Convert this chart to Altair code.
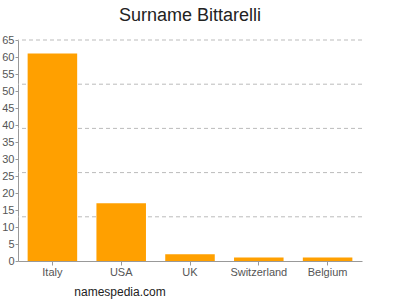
import altair as alt
import pandas as pd

countries = ["Italy", "USA", "UK", "Switzerland", "Belgium"]
counts = [61, 17, 2, 1, 1]
grid_values = [13, 26, 39, 52, 65]
y_ticks = list(range(0, 70, 5))

df = pd.DataFrame({"country": countries, "count": counts})
gdf = pd.DataFrame({"g": grid_values})

FONT = "Liberation Sans"

yscale = alt.Scale(domain=[0, 65], nice=False)
yaxis = alt.Axis(values=y_ticks, labelFont=FONT, labelFontSize=11,
                 labelColor="#555", domainColor="#999", tickColor="#999",
                 tickSize=3, grid=False, labelPadding=1,
                 labelOverlap=False, labelFlush=False, title=None)

grid = alt.Chart(gdf).mark_rule(color="#bbb", strokeDash=[4, 3], strokeWidth=1).encode(
    y=alt.Y("g:Q", scale=yscale, axis=yaxis, title=None),
)

bars = alt.Chart(df).mark_bar(color="#ffa000").encode(
    x=alt.X("country:N", sort=countries, title=None,
            scale=alt.Scale(paddingInner=0.28, paddingOuter=0.14),
            axis=alt.Axis(labelAngle=0, labelFont=FONT, labelFontSize=11,
                          labelColor="#555", domainColor="#999", tickColor="#999",
                          tickSize=4, labelPadding=1)),
    y=alt.Y("count:Q", title=None, scale=yscale, axis=yaxis),
)

footer = alt.Chart(pd.DataFrame({"t": ["namespedia.com"]})).mark_text(
    font=FONT, fontSize=12, color="#222", align="center"
).encode(text="t:N", x=alt.value(102), y=alt.value(252))

chart = alt.layer(grid, bars, footer).properties(
    width=344, height=221,
    title=alt.TitleParams("Surname Bittarelli", font=FONT, fontSize=18,
                          fontWeight="normal", color="#222", anchor="middle", offset=9),
    autosize=alt.AutoSizeParams(type="none"),
    padding={"left": 18, "top": 40, "right": 38, "bottom": 39},
).configure_view(stroke=None)

chart.save("out.html", embed_options={"renderer": "svg", "actions": False})
